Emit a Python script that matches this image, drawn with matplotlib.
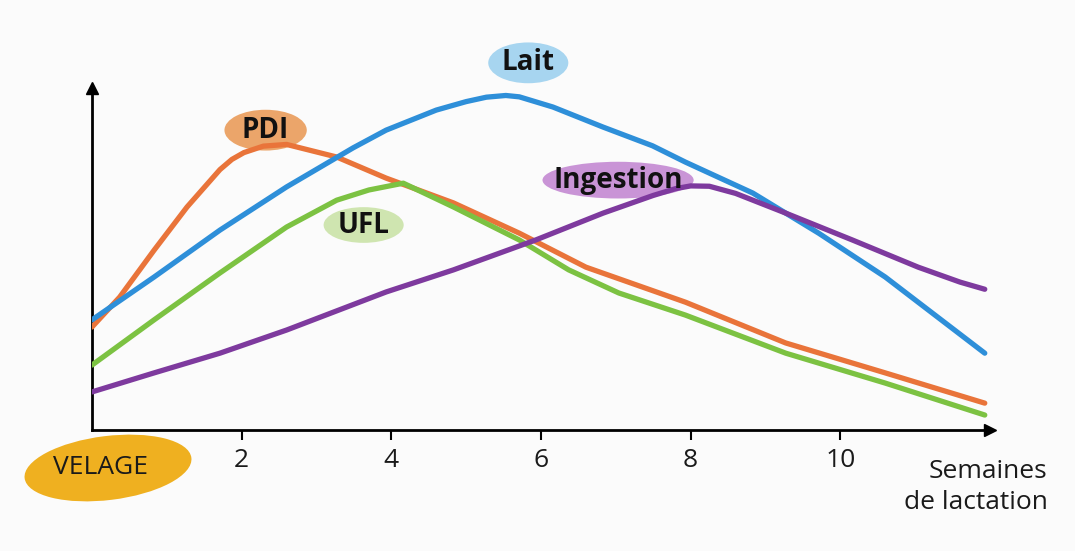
import matplotlib.pyplot as plt
from matplotlib.patches import Ellipse

# Weeks of lactation (x) and relative level (y) for each curve.
lait_x = [0, 0.83, 1.71, 2.6, 3.49, 3.93, 4.6, 5.0, 5.27, 5.53, 5.71, 6.16, 6.83, 7.49, 7.93, 8.83, 9.71, 10.6, 11.93]
lait_y = [32.4, 45.0, 58.8, 71.5, 83.0, 88.2, 94.1, 96.6, 97.9, 98.4, 98.0, 95.0, 89.1, 83.6, 78.8, 69.7, 57.9, 45.0, 22.6]

pdi_x = [0, 0.37, 0.83, 1.27, 1.71, 1.87, 2.03, 2.29, 2.6, 3.27, 3.93, 4.83, 5.71, 6.6, 7.93, 9.27, 10.6, 11.93]
pdi_y = [30.3, 39.1, 52.9, 65.6, 76.6, 79.6, 81.6, 83.5, 84.0, 80.3, 74.1, 66.8, 57.9, 47.9, 37.6, 25.6, 16.8, 7.9]

ufl_x = [0, 0.83, 1.71, 2.6, 3.27, 3.7, 4.16, 4.83, 5.71, 6.37, 7.04, 7.93, 9.27, 10.6, 11.93]
ufl_y = [19.1, 32.4, 46.2, 59.7, 67.6, 70.6, 72.6, 65.6, 55.9, 47.1, 40.3, 33.8, 22.6, 13.8, 4.4]

ing_x = [0, 0.83, 1.71, 2.6, 3.93, 4.83, 5.93, 6.83, 7.5, 7.8, 8.0, 8.25, 8.6, 9.27, 10.16, 11.04, 11.6, 11.93]
ing_y = [11.2, 16.8, 22.6, 29.4, 40.6, 47.1, 55.9, 63.8, 69.0, 71.0, 71.8, 71.7, 69.6, 63.8, 55.9, 47.9, 43.5, 41.4]

ticks = [2, 4, 6, 8, 10]

plt.rcParams['font.family'] = ['Open Sans', 'DejaVu Sans']

fig = plt.figure(figsize=(10.75, 5.51), dpi=100, facecolor='#fbfbfb')
ax = fig.add_axes([92/1075, 121/551, 898/1075, 342/551])
ax.set_facecolor('#fbfbfb')
ax.set_xlim(0, 12)
ax.set_ylim(0, 100.6)

for s in ['top', 'right']:
    ax.spines[s].set_visible(False)
for s in ['left', 'bottom']:
    ax.spines[s].set_linewidth(2)
    ax.spines[s].set_color('black')

# arrow heads at the ends of the axes
ax.plot(1, 0, '>k', ms=9, transform=ax.transAxes, clip_on=False)
ax.plot(0, 1, '^k', ms=9, transform=ax.transAxes, clip_on=False)

ax.set_xticks(ticks)
ax.set_xticklabels([str(t) for t in ticks], fontsize=19, color='#1a1a1a')
ax.tick_params(axis='x', direction='out', length=7, width=1.5, pad=6)
ax.set_yticks([])

lw = 3.8
style = dict(lw=lw, solid_joinstyle='round', solid_capstyle='round')
ax.plot(lait_x, lait_y, color='#2e8fd9', zorder=4, **style)
ax.plot(pdi_x, pdi_y, color='#e9743a', zorder=3, **style)
ax.plot(ufl_x, ufl_y, color='#7cc242', zorder=3, **style)
ax.plot(ing_x, ing_y, color='#7e3a9e', zorder=4, **style)

# bubble labels: text, centre (x, y), ellipse width/height, colour
labels = [
    ('Lait', 5.83, 108.0, 1.07, 12.0, '#a7d5f0'),
    ('PDI', 2.32, 88.2, 1.1, 12.0, '#eba56a'),
    ('UFL', 3.63, 60.3, 1.07, 10.5, '#cfe5b0'),
    ('Ingestion', 7.03, 73.5, 2.02, 10.8, '#c994d6'),
]
for txt, x, y, w, h, c in labels:
    ax.add_patch(Ellipse((x, y), w, h, facecolor=c, edgecolor='none', zorder=2, clip_on=False))
    ax.text(x, y, txt, ha='center', va='center', fontsize=20, fontweight='bold',
            color='#111111', zorder=5, clip_on=False)

# VELAGE bubble below the origin (figure inches, slightly tilted)
velage = Ellipse((1.08, 0.83), 1.68, 0.64, angle=7, facecolor='#efb020', edgecolor='none',
                 transform=fig.dpi_scale_trans, zorder=2, clip_on=False)
ax.add_patch(velage)
ax.text(0.12, -11.0, 'VELAGE', ha='center', va='center', fontsize=19, color='#1a1a1a',
        zorder=5, clip_on=False)

ax.text(12.77, -8.6, 'Semaines\nde lactation', ha='right', va='top', fontsize=19,
        color='#1a1a1a', linespacing=1.3, clip_on=False)

fig.savefig('out.png', dpi=100, facecolor=fig.get_facecolor())
